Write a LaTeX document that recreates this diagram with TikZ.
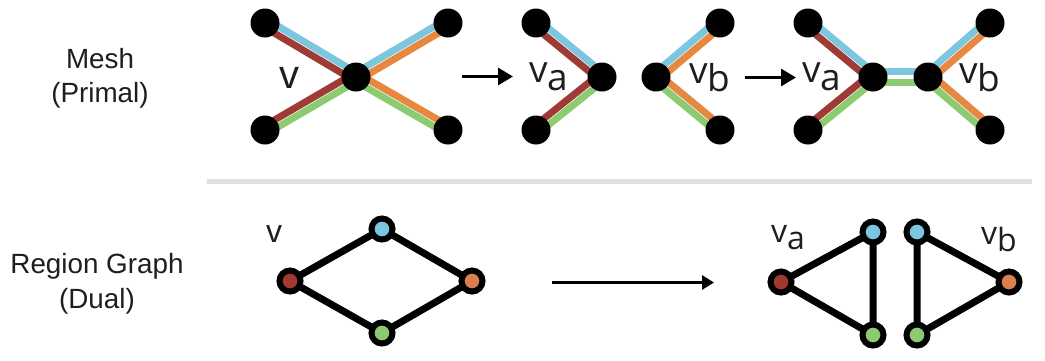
\documentclass[tikz,border=0pt]{standalone}
\usepackage{fontspec}
\setmainfont{Liberation Sans}
\newfontfamily\subfont{Open Sans}
\usetikzlibrary{calc,backgrounds,arrows.meta}

\definecolor{fblue}{HTML}{7CC6DE}
\definecolor{fred}{HTML}{9E3B34}
\definecolor{forange}{HTML}{E6883F}
\definecolor{fgreen}{HTML}{8DCB72}
\definecolor{nblue}{HTML}{7CC5E0}
\definecolor{nred}{HTML}{A0392F}
\definecolor{norange}{HTML}{D9804E}
\definecolor{ngreen}{HTML}{8CC970}
\definecolor{txt}{HTML}{1E1E1E}
\definecolor{rule}{HTML}{DEDFE0}

% two coloured bands along one mesh edge: from, to, left colour, right colour, half spacing
\newcommand\twotone[5]{%
  \draw[band,#3] ($(#1)!#5!90:(#2)$) -- ($(#2)!#5!-90:(#1)$);
  \draw[band,#4] ($(#1)!#5!-90:(#2)$) -- ($(#2)!#5!90:(#1)$);
}

\tikzset{
  vert/.style={circle,fill=black,inner sep=0pt,minimum size=29pt},
  band/.style={line width=7pt,line cap=butt},
  rnode/.style={circle,draw=black,line width=6pt,inner sep=0pt,minimum size=21pt},
  redge/.style={line width=7pt,black},
  flow/.style={line width=3pt,-{Triangle[length=15pt,width=17pt]}},
  flowlow/.style={line width=3pt,-{Triangle[length=12pt,width=14pt]}},
  side/.style={text=txt,font=\fontsize{27.8}{34}\selectfont,anchor=base,inner sep=0pt},
  vlab/.style={text=txt,anchor=base west,inner sep=0pt},
}

\begin{document}
\begin{tikzpicture}[x=1pt,y=-1pt]
\useasboundingbox (0,0) rectangle (1045,360);

% row captions
\node[side] (cap1) at (100,68) {Mesh};
\node[side] (cap2) at (100,102) {(Primal)};
\node[side] (cap3) at (97,273) {Region Graph};
\node[side] (cap4) at (97,308) {(Dual)};

% separator
\coordinate (s1) at (207,181.5);
\coordinate (s2) at (1032,181.5);
\draw[rule,line width=5pt] (s1) -- (s2);

% ---------- primal: single vertex v ----------
\node[vert] (xc) at (356,77) {};
\node[vert] (xtl) at (265,23) {};
\node[vert] (xtr) at (448,23) {};
\node[vert] (xbl) at (265,130) {};
\node[vert] (xbr) at (448,130) {};
\node[vlab,font=\fontsize{40}{40}\selectfont] (xv) at (279,88) {v};

% ---------- primal: split halves ----------
\node[vert] (ac) at (602,77) {};
\node[vert] (atl) at (536,23) {};
\node[vert] (abl) at (536,130) {};
\node[vert] (bc) at (656,77) {};
\node[vert] (btr) at (720,23) {};
\node[vert] (bbr) at (720,130) {};
\node[vlab,font=\subfont\fontsize{37}{37}\selectfont] (la) at (529,82) {v\raisebox{-8pt}{a}};
\node[vlab,font=\subfont\fontsize{37}{37}\selectfont] (lb) at (689,83) {v\raisebox{-8pt}{b}};

% ---------- primal: rejoined with new edge ----------
\node[vert] (cc) at (873,77) {};
\node[vert] (ctl) at (808,23) {};
\node[vert] (cbl) at (808,130) {};
\node[vert] (dc) at (928,77) {};
\node[vert] (dtr) at (990,23) {};
\node[vert] (dbr) at (990,130) {};
\node[vlab,font=\subfont\fontsize{37}{37}\selectfont] (lc) at (802,82) {v\raisebox{-8pt}{a}};
\node[vlab,font=\subfont\fontsize{37}{37}\selectfont] (ld) at (959,83) {v\raisebox{-8pt}{b}};

\begin{pgfonlayer}{background}
  \twotone{xc}{xtl}{fred}{fblue}{3.9pt}
  \twotone{xc}{xtr}{fblue}{forange}{3.9pt}
  \twotone{xc}{xbl}{fgreen}{fred}{3.9pt}
  \twotone{xc}{xbr}{forange}{fgreen}{3.9pt}

  \twotone{ac}{atl}{fred}{fblue}{3.9pt}
  \twotone{ac}{abl}{fgreen}{fred}{3.9pt}
  \twotone{bc}{btr}{fblue}{forange}{3.9pt}
  \twotone{bc}{bbr}{forange}{fgreen}{3.9pt}

  \twotone{cc}{ctl}{fred}{fblue}{3.9pt}
  \twotone{cc}{cbl}{fgreen}{fred}{3.9pt}
  \twotone{dc}{dtr}{fblue}{forange}{3.9pt}
  \twotone{dc}{dbr}{forange}{fgreen}{3.9pt}
  \twotone{cc}{dc}{fblue}{fgreen}{5.5pt}
\end{pgfonlayer}

% primal arrows
\coordinate (p1) at (462,76.5);
\coordinate (p2) at (513,76.5);
\coordinate (p3) at (745,77.5);
\coordinate (p4) at (796,77.5);
\draw[flow] (p1) -- (p2);
\draw[flow] (p3) -- (p4);

% ---------- dual: region graph of v ----------
\node[rnode,fill=nblue] (rt) at (382,229) {};
\node[rnode,fill=nred] (rl) at (290,281) {};
\node[rnode,fill=norange] (rr) at (472,281) {};
\node[rnode,fill=ngreen] (rb) at (382,333) {};
\node[vlab,font=\fontsize{32}{32}\selectfont] (rv) at (266,242) {v};

% ---------- dual: region graphs of the halves ----------
\node[rnode,fill=nred] (al) at (781,282) {};
\node[rnode,fill=nblue] (at) at (873,232) {};
\node[rnode,fill=ngreen] (ab) at (873,335) {};
\node[rnode,fill=nblue] (bt) at (917,232) {};
\node[rnode,fill=ngreen] (bb) at (917,335) {};
\node[rnode,fill=norange] (br) at (1009,282) {};
\node[vlab,font=\subfont\fontsize{32}{32}\selectfont] (ra) at (771,242) {v\raisebox{-7pt}{a}};
\node[vlab,font=\subfont\fontsize{32}{32}\selectfont] (rbv) at (981,244) {v\raisebox{-7pt}{b}};

\begin{pgfonlayer}{background}
  \draw[redge] (rl.center) -- (rt.center) -- (rr.center) -- (rb.center) -- cycle;
  \draw[redge] (al.center) -- (at.center) -- (ab.center) -- cycle;
  \draw[redge] (br.center) -- (bt.center) -- (bb.center) -- cycle;
\end{pgfonlayer}

% dual arrow
\coordinate (q1) at (552,282.5);
\coordinate (q2) at (714,282.5);
\draw[flowlow] (q1) -- (q2);
\end{tikzpicture}
\end{document}
